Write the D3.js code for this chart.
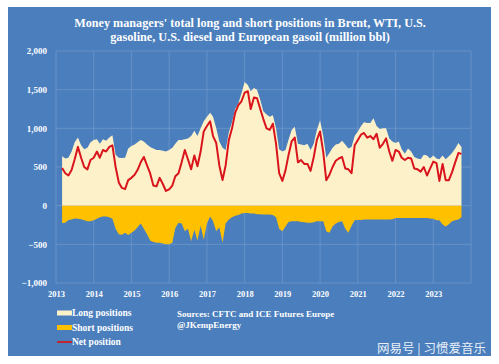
<!DOCTYPE html>
<html>
<head>
<meta charset="utf-8">
<script src="https://cdn.jsdelivr.net/npm/d3@7"></script>
<style>
  body { margin: 0; background: #fff; }
  svg { display: block; }
  text { font-family: "Liberation Serif", "DejaVu Serif", serif; font-weight: bold; fill: #fff; }
</style>
</head>
<body>
<svg width="499" height="364"></svg>
<script>
// monthly readings, Mar 2013 .. Oct 2023 (million bbl)

const startMonth = new Date(2013, 2, 1);

const longPos = [
  640, 610, 620, 700, 820, 880, 780, 730, 750, 820,
  850, 860, 800, 860, 840, 880, 910, 660, 620, 615, 620, 740,
  770, 790, 820, 850, 830, 790, 760, 740, 720, 720, 710, 700,
  720, 750, 800, 850, 850, 860, 870, 900, 970, 900, 1000, 1090,
  1150, 1200, 1150, 1000, 830, 750, 720, 950, 1080, 1250, 1320, 1450,
  1600, 1560, 1480, 1520, 1500, 1370, 1220, 1180, 1150, 1170, 1000, 730,
  700, 720, 850, 980, 1020, 800, 790, 780, 800, 720, 800, 980,
  1100, 900, 620, 680, 750, 790, 800, 840, 790, 740, 760, 900,
  960, 1030, 1080, 1070, 1070, 1130, 1030, 990, 1000, 1000, 870, 830,
  810, 830, 730, 670, 740, 700, 630, 610, 600, 660, 650, 610,
  650, 610, 600, 650, 600, 640, 680, 740, 810, 760
];

const shortPos = [
  -224, -220, -185, -180, -165, -170, -175, -190, -200, -200,
  -190, -170, -150, -140, -140, -150, -170, -300, -370, -375, -350, -380,
  -350, -320, -280, -230, -300, -370, -450, -470, -480, -480, -490, -500,
  -500, -480, -290, -220, -230, -330, -300, -460, -310, -450, -260, -440,
  -230, -140, -200, -330, -280, -480, -230, -180, -150, -130, -120, -100,
  -95, -95, -100, -100, -110, -110, -115, -115, -115, -120, -150, -300,
  -330, -270, -210, -200, -200, -200, -210, -215, -220, -220, -215, -200,
  -200, -200, -330, -350, -270, -230, -210, -200, -300, -350, -260, -190,
  -185, -185, -180, -180, -180, -180, -180, -180, -180, -180, -180, -175,
  -160, -160, -160, -160, -160, -160, -160, -160, -160, -160, -160, -165,
  -170, -190, -190, -245, -270, -240, -200, -190, -180, -150
];

const netPos = [
  487, 420, 390, 460, 600, 760, 620, 500, 470, 590,
  620, 700, 620, 720, 700, 760, 780, 500, 300, 230, 215, 330,
  360, 400, 460, 560, 630, 520, 420, 260, 250, 360, 280, 190,
  210, 260, 380, 420, 560, 720, 600, 470, 650, 510, 700, 960,
  1030, 1090, 900, 810, 520, 330, 520, 850, 1000, 1200, 1300, 1350,
  1460, 1480, 1250, 1400, 1390, 1250, 1120, 1000, 980, 1060, 800, 420,
  320, 460, 650, 830, 880, 560, 590, 540, 540, 450, 630, 850,
  960, 690, 330, 400, 500, 580, 610, 630, 480, 470, 420, 780,
  850, 920, 940, 880, 900, 860, 930, 750, 800, 870, 700, 580,
  720, 700, 620, 590, 620, 610, 480, 470, 440, 500, 390, 480,
  570, 550, 320, 540, 330, 330, 430, 560, 680, 670
];

const yTicks = [-1000, -500, 0, 500, 1000, 1500, 2000];
const years = d3.range(2013, 2024);

const legendItems = [
  { label: "Long positions", color: "#fdf1c9", kind: "box" },
  { label: "Short positions", color: "#ffc000", kind: "box" },
  { label: "Net position", color: "#c0262d", kind: "line" }
];

const dates = longPos.map((d, i) => d3.timeMonth.offset(startMonth, i));
const data = dates.map((d, i) => ({ date: d, long: longPos[i], short: shortPos[i], net: netPos[i] }));

const svg = d3.select("svg");

// panel
svg.append("rect")
   .attr("x", 8).attr("y", 7)
   .attr("width", 483).attr("height", 349)
   .attr("fill", "#4a7ebd");

// scales
const x = d3.scaleTime()
            .domain([new Date(2013, 0, 1), new Date(2024, 0, 1)])
            .range([56, 471]);

const y = d3.scaleLinear()
            .domain([-1000, 2000])
            .range([283, 51]);

// gridlines
svg.append("g")
   .selectAll("line")
   .data(yTicks)
   .join("line")
   .attr("x1", 56).attr("x2", 471)
   .attr("y1", d => y(d)).attr("y2", d => y(d))
   .attr("stroke", "#7299cc")
   .attr("stroke-width", 0.7);

svg.append("g")
   .selectAll("line")
   .data(years.concat([2024]))
   .join("line")
   .attr("x1", d => x(new Date(d, 0, 1))).attr("x2", d => x(new Date(d, 0, 1)))
   .attr("y1", y(2000)).attr("y2", y(-1000))
   .attr("stroke", "#7299cc")
   .attr("stroke-width", 0.7);

// areas
const longArea = d3.area()
                   .x(d => x(d.date))
                   .y0(y(0))
                   .y1(d => y(d.long));

const shortArea = d3.area()
                    .x(d => x(d.date))
                    .y0(y(0))
                    .y1(d => y(d.short));

svg.append("path")
   .datum(data)
   .attr("d", longArea)
   .attr("fill", "#fdf1c9");

svg.append("path")
   .datum(data)
   .attr("d", shortArea)
   .attr("fill", "#ffc000");

// net line
svg.append("path")
   .datum(data)
   .attr("fill", "none")
   .attr("stroke", "#d9141c")
   .attr("stroke-width", 2)
   .attr("stroke-linejoin", "round")
   .attr("d", d3.line().x(d => x(d.date)).y(d => y(d.net)));

// axes
const yAxis = d3.axisLeft(y)
                .tickValues(yTicks)
                .tickSize(0)
                .tickPadding(0)
                .tickFormat(d3.format(","));

svg.append("g")
   .attr("transform", "translate(47,0)")
   .call(yAxis)
   .call(g => g.select(".domain").remove())
   .selectAll("text")
   .attr("font-size", 9)
   .attr("font-family", "Liberation Serif")
   .attr("fill", "#fff");

const xAxis = d3.axisBottom(x)
                .tickValues(years.map(d => new Date(d, 0, 1)))
                .tickSize(0)
                .tickPadding(0)
                .tickFormat(d3.timeFormat("%Y"));

svg.append("g")
   .attr("transform", "translate(0,291)")
   .call(xAxis)
   .call(g => g.select(".domain").remove())
   .selectAll("text")
   .attr("font-size", 8.5)
   .attr("font-family", "Liberation Serif")
   .attr("fill", "#fff");

// title
const title = svg.append("text")
                 .attr("text-anchor", "middle")
                 .attr("font-size", 12.2);
title.append("tspan").attr("x", 250).attr("y", 27)
     .text("Money managers' total long and short positions in Brent, WTI, U.S.");
title.append("tspan").attr("x", 250).attr("y", 41)
     .text("gasoline, U.S. diesel and European gasoil  (million bbl)");

// legend
const legend = svg.append("g")
                  .selectAll("g")
                  .data(legendItems)
                  .join("g")
                  .attr("transform", (d, i) => `translate(57,${313 + i * 14.5})`);

legend.filter(d => d.kind === "box")
      .append("rect")
      .attr("x", 0).attr("y", -2.5)
      .attr("width", 15).attr("height", 5)
      .attr("fill", d => d.color);

legend.filter(d => d.kind === "line")
      .append("line")
      .attr("x1", 0).attr("x2", 15)
      .attr("stroke", d => d.color)
      .attr("stroke-width", 2);

legend.append("text")
      .attr("x", 15)
      .attr("y", 3)
      .attr("font-size", 9.5)
      .text(d => d.label);

// sources
svg.append("text")
   .attr("x", 177).attr("y", 317)
   .attr("font-size", 9)
   .text("Sources: CFTC and ICE Futures Europe");

svg.append("text")
   .attr("x", 177).attr("y", 328)
   .attr("font-size", 9)
   .text("@JKempEnergy");

// watermark
svg.append("text")
   .attr("x", 486).attr("y", 353)
   .attr("text-anchor", "end")
   .attr("font-size", 12.5)
   .style("font-family", "'Noto Sans CJK SC', sans-serif")
   .style("font-weight", "normal")
   .attr("fill-opacity", 0.9)
   .text("网易号 | 习惯爱音乐");
</script>
</body>
</html>
